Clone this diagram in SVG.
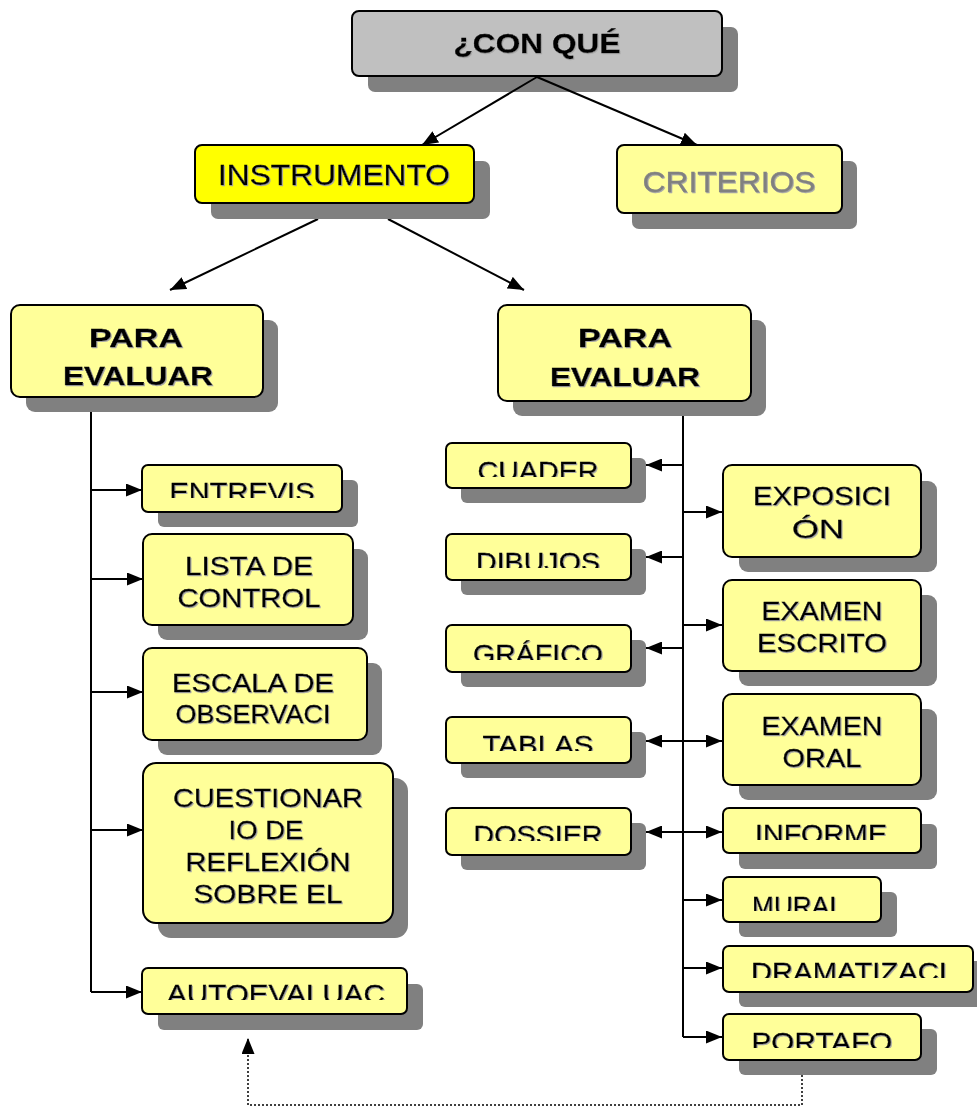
<svg xmlns="http://www.w3.org/2000/svg" width="977" height="1106" viewBox="0 0 977 1106">
<style>
.sh{fill:#808080;}
.box{fill:#ffff99;stroke:#000;stroke-width:2;}
.t{font-family:"Liberation Sans",Arial,sans-serif;font-size:26px;fill:#000;text-anchor:middle;filter:url(#ts);stroke:#000;stroke-width:0.3;}
.b{font-weight:bold;}
.ln{fill:none;stroke:#000;stroke-width:2;}
</style>
<defs>
<filter id="ts" x="-5%" y="-20%" width="115%" height="150%">
<feDropShadow dx="1" dy="1" stdDeviation="0" flood-color="#a8a8a8" flood-opacity="1"/>
</filter>
<marker id="ah" viewBox="0 0 16 13" refX="16" refY="6.5" markerWidth="16" markerHeight="13" markerUnits="userSpaceOnUse" orient="auto-start-reverse">
<path d="M0,0 L16,6.5 L0,13 z" fill="#000"/>
</marker>
<clipPath id="c-entrevis"><rect x="142" y="465" width="200" height="33"/></clipPath>
<clipPath id="c-cuader"><rect x="446" y="443" width="185" height="34"/></clipPath>
<clipPath id="c-dibujos"><rect x="446" y="534" width="185" height="34"/></clipPath>
<clipPath id="c-grafico"><rect x="446" y="620" width="185" height="40"/></clipPath>
<clipPath id="c-tablas"><rect x="446" y="717" width="185" height="34"/></clipPath>
<clipPath id="c-dossier"><rect x="446" y="808" width="185" height="33"/></clipPath>
<clipPath id="c-auto"><rect x="142" y="968" width="265" height="32"/></clipPath>
<clipPath id="c-informe"><rect x="723" y="808" width="198" height="32"/></clipPath>
<clipPath id="c-mural"><rect x="723" y="877" width="158" height="34"/></clipPath>
<clipPath id="c-drama"><rect x="723" y="946" width="250" height="32"/></clipPath>
<clipPath id="c-porta"><rect x="723" y="1014" width="198" height="34"/></clipPath>
</defs>
<rect width="977" height="1106" fill="#fff"/>

<g id="n-conque">
<rect class="sh" x="368" y="27" width="370" height="65" rx="7"/>
<rect class="box" x="352" y="11" width="370" height="65" rx="7" style="fill:#c0c0c0"/>
<text class="t b" x="537" y="53" style="font-size:28px" textLength="167" lengthAdjust="spacingAndGlyphs">¿CON QUÉ</text>
</g>

<g id="connectors">
<path class="ln" d="M537,77 L422,145" marker-end="url(#ah)"/>
<path class="ln" d="M537,77 L697,145" marker-end="url(#ah)"/>
<path class="ln" d="M318,219 L170,290" marker-end="url(#ah)"/>
<path class="ln" d="M388,219 L524,290" marker-end="url(#ah)"/>
<path class="ln" d="M91,412 V992"/>
<path class="ln" d="M91,490 H142" marker-end="url(#ah)"/>
<path class="ln" d="M91,579 H143" marker-end="url(#ah)"/>
<path class="ln" d="M91,692 H143" marker-end="url(#ah)"/>
<path class="ln" d="M91,830 H143" marker-end="url(#ah)"/>
<path class="ln" d="M91,992 H142" marker-end="url(#ah)"/>
<path class="ln" d="M683,416 V1037"/>
<path class="ln" d="M683,465 H646" marker-end="url(#ah)"/>
<path class="ln" d="M683,557 H646" marker-end="url(#ah)"/>
<path class="ln" d="M683,648 H646" marker-end="url(#ah)"/>
<path class="ln" d="M646,741 H722" marker-start="url(#ah)" marker-end="url(#ah)"/>
<path class="ln" d="M646,832 H722" marker-start="url(#ah)" marker-end="url(#ah)"/>
<path class="ln" d="M683,512 H722" marker-end="url(#ah)"/>
<path class="ln" d="M683,625 H722" marker-end="url(#ah)"/>
<path class="ln" d="M683,900 H722" marker-end="url(#ah)"/>
<path class="ln" d="M683,968 H722" marker-end="url(#ah)"/>
<path class="ln" d="M683,1037 H722" marker-end="url(#ah)"/>
<path d="M802,1075 V1105 H248 V1038" fill="none" stroke="#000" stroke-width="1.5" stroke-dasharray="2,2" marker-end="url(#ah)"/>
</g>

<g id="n-instrumento">
<rect class="sh" x="211" y="161" width="279" height="58" rx="7"/>
<rect class="box" x="195" y="145" width="279" height="58" rx="7" style="fill:#ffff00"/>
<text class="t" x="334" y="185" style="font-size:30px" textLength="232" lengthAdjust="spacingAndGlyphs">INSTRUMENTO</text>
</g>

<g id="n-criterios">
<rect class="sh" x="632" y="161" width="225" height="68" rx="7"/>
<rect class="box" x="617" y="145" width="225" height="68" rx="7"/>
<text class="t" x="729" y="192" style="font-size:30px;fill:#808080;stroke:#808080" textLength="173" lengthAdjust="spacingAndGlyphs">CRITERIOS</text>
</g>

<g id="n-para-izq">
<rect class="sh" x="26" y="320" width="252" height="92" rx="9"/>
<rect class="box" x="11" y="305" width="252" height="92" rx="9"/>
<text class="t b" x="136" y="347" textLength="94" lengthAdjust="spacingAndGlyphs">PARA</text>
<text class="t b" x="138" y="385" textLength="150" lengthAdjust="spacingAndGlyphs">EVALUAR</text>
</g>

<g id="n-para-der">
<rect class="sh" x="513" y="320" width="253" height="96" rx="9"/>
<rect class="box" x="498" y="305" width="253" height="96" rx="9"/>
<text class="t b" x="625" y="347" textLength="94" lengthAdjust="spacingAndGlyphs">PARA</text>
<text class="t b" x="625" y="386" textLength="150" lengthAdjust="spacingAndGlyphs">EVALUAR</text>
</g>

<g id="n-entrevis">
<rect class="sh" x="158" y="480" width="200" height="47" rx="6"/>
<rect class="box" x="142" y="465" width="200" height="47" rx="6"/>
<text class="t" x="242" y="501" clip-path="url(#c-entrevis)" textLength="145" lengthAdjust="spacingAndGlyphs">ENTREVIS</text>
</g>

<g id="n-lista">
<rect class="sh" x="158" y="549" width="210" height="91" rx="9"/>
<rect class="box" x="143" y="534" width="210" height="91" rx="9"/>
<text class="t" x="249" y="575" textLength="128" lengthAdjust="spacingAndGlyphs">LISTA DE</text>
<text class="t" x="249" y="607" textLength="143" lengthAdjust="spacingAndGlyphs">CONTROL</text>
</g>

<g id="n-escala">
<rect class="sh" x="158" y="663" width="224" height="92" rx="9"/>
<rect class="box" x="143" y="648" width="224" height="92" rx="9"/>
<text class="t" x="253" y="692" textLength="162" lengthAdjust="spacingAndGlyphs">ESCALA DE</text>
<text class="t" x="253" y="723" textLength="155" lengthAdjust="spacingAndGlyphs">OBSERVACI</text>
</g>

<g id="n-cuestionario">
<rect class="sh" x="158" y="778" width="250" height="160" rx="13"/>
<rect class="box" x="143" y="763" width="250" height="160" rx="13"/>
<text class="t" x="268" y="807" textLength="190" lengthAdjust="spacingAndGlyphs">CUESTIONAR</text>
<text class="t" x="266" y="839" textLength="75" lengthAdjust="spacingAndGlyphs">IO DE</text>
<text class="t" x="268" y="871" textLength="165" lengthAdjust="spacingAndGlyphs">REFLEXIÓN</text>
<text class="t" x="268" y="903" textLength="149" lengthAdjust="spacingAndGlyphs">SOBRE EL</text>
</g>

<g id="n-autoevaluac">
<rect class="sh" x="158" y="984" width="265" height="46" rx="6"/>
<rect class="box" x="142" y="968" width="265" height="46" rx="6"/>
<text class="t" x="276" y="1003" clip-path="url(#c-auto)" textLength="218" lengthAdjust="spacingAndGlyphs">AUTOEVALUAC</text>
</g>

<g id="n-cuader">
<rect class="sh" x="461" y="458" width="185" height="45" rx="6"/>
<rect class="box" x="446" y="443" width="185" height="45" rx="6"/>
<text class="t" x="538" y="480" clip-path="url(#c-cuader)" textLength="121" lengthAdjust="spacingAndGlyphs">CUADER</text>
</g>

<g id="n-dibujos">
<rect class="sh" x="461" y="549" width="185" height="46" rx="6"/>
<rect class="box" x="446" y="534" width="185" height="46" rx="6"/>
<text class="t" x="538" y="571" clip-path="url(#c-dibujos)" textLength="124" lengthAdjust="spacingAndGlyphs">DIBUJOS</text>
</g>

<g id="n-grafico">
<rect class="sh" x="461" y="640" width="185" height="47" rx="6"/>
<rect class="box" x="446" y="625" width="185" height="47" rx="6"/>
<text class="t" x="538" y="663" clip-path="url(#c-grafico)" textLength="130" lengthAdjust="spacingAndGlyphs">GRÁFICO</text>
</g>

<g id="n-tablas">
<rect class="sh" x="461" y="732" width="185" height="46" rx="6"/>
<rect class="box" x="446" y="717" width="185" height="46" rx="6"/>
<text class="t" x="538" y="754" clip-path="url(#c-tablas)" textLength="111" lengthAdjust="spacingAndGlyphs">TABLAS</text>
</g>

<g id="n-dossier">
<rect class="sh" x="461" y="823" width="185" height="47" rx="6"/>
<rect class="box" x="446" y="808" width="185" height="47" rx="6"/>
<text class="t" x="538" y="844" clip-path="url(#c-dossier)" textLength="129" lengthAdjust="spacingAndGlyphs">DOSSIER</text>
</g>

<g id="n-exposicion">
<rect class="sh" x="739" y="481" width="198" height="91" rx="9"/>
<rect class="box" x="723" y="465" width="198" height="92" rx="9"/>
<text class="t" x="822" y="505" textLength="138" lengthAdjust="spacingAndGlyphs">EXPOSICI</text>
<text class="t" x="818" y="538" textLength="52" lengthAdjust="spacingAndGlyphs">ÓN</text>
</g>

<g id="n-examen-escrito">
<rect class="sh" x="739" y="595" width="198" height="91" rx="9"/>
<rect class="box" x="723" y="580" width="198" height="91" rx="9"/>
<text class="t" x="822" y="620" textLength="121" lengthAdjust="spacingAndGlyphs">EXAMEN</text>
<text class="t" x="822" y="652" textLength="130" lengthAdjust="spacingAndGlyphs">ESCRITO</text>
</g>

<g id="n-examen-oral">
<rect class="sh" x="739" y="709" width="198" height="91" rx="9"/>
<rect class="box" x="723" y="694" width="198" height="91" rx="9"/>
<text class="t" x="822" y="735" textLength="121" lengthAdjust="spacingAndGlyphs">EXAMEN</text>
<text class="t" x="822" y="767" textLength="79" lengthAdjust="spacingAndGlyphs">ORAL</text>
</g>

<g id="n-informe">
<rect class="sh" x="739" y="824" width="198" height="45" rx="6"/>
<rect class="box" x="723" y="808" width="198" height="45" rx="6"/>
<text class="t" x="821" y="843" clip-path="url(#c-informe)" textLength="132" lengthAdjust="spacingAndGlyphs">INFORME</text>
</g>

<g id="n-mural">
<rect class="sh" x="739" y="892" width="158" height="45" rx="6"/>
<rect class="box" x="723" y="877" width="158" height="45" rx="6"/>
<text class="t" x="798" y="915" clip-path="url(#c-mural)" textLength="92" lengthAdjust="spacingAndGlyphs">MURAL</text>
</g>

<g id="n-dramatizaci">
<rect class="sh" x="739" y="961" width="250" height="46" rx="6"/>
<rect class="box" x="723" y="946" width="250" height="46" rx="6"/>
<text class="t" x="849" y="981" clip-path="url(#c-drama)" textLength="196" lengthAdjust="spacingAndGlyphs">DRAMATIZACI</text>
</g>

<g id="n-portafo">
<rect class="sh" x="739" y="1029" width="198" height="46" rx="6"/>
<rect class="box" x="723" y="1014" width="198" height="46" rx="6"/>
<text class="t" x="822" y="1051" clip-path="url(#c-porta)" textLength="141" lengthAdjust="spacingAndGlyphs">PORTAFO</text>
</g>
</svg>
